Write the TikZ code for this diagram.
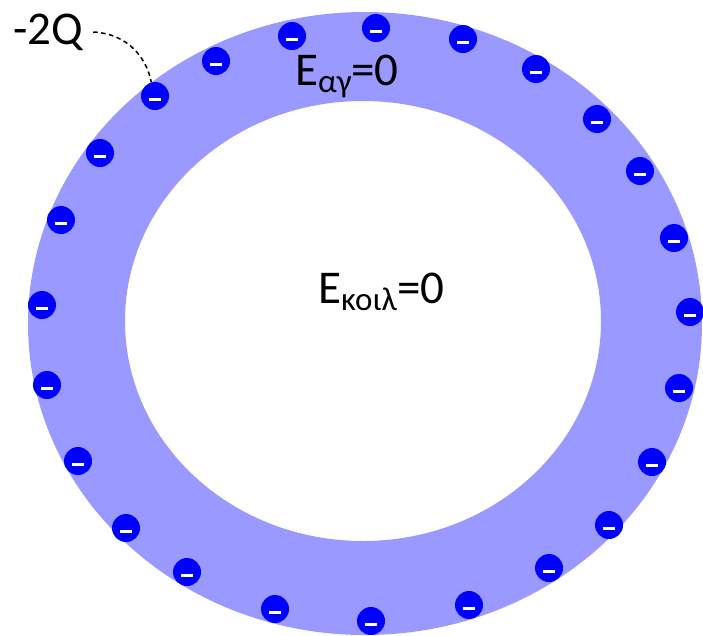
\documentclass[tikz,border=0pt]{standalone}
\usepackage{fontspec}
\setmainfont{Carlito}
\usetikzlibrary{calc}
\definecolor{ringcol}{HTML}{9999FF}
\definecolor{chargecol}{HTML}{0000FF}
\tikzset{
  charge/.style={circle, fill=chargecol, minimum size=28pt, inner sep=0pt,
    path picture={\fill[white] ($(path picture bounding box.center)+(-6,1.5)$) rectangle ($(path picture bounding box.center)+(6,4.5)$);}},
  bigtext/.style={font=\fontsize{47}{47}\selectfont, inner sep=0pt, anchor=base west},
  leader/.style={dashed, dash pattern=on 4.5pt off 3.5pt, line width=1.5pt}
}
\newcommand{\subtxt}[1]{\raisebox{-7pt}{\fontsize{33}{33}\selectfont #1}}
\begin{document}
\begin{tikzpicture}[x=1pt,y=-1pt]
\useasboundingbox (0,0) rectangle (703,635);
\fill[ringcol, even odd rule] (365,323.5) ellipse [x radius=337pt, y radius=311.5pt]
  (363,321) ellipse [x radius=238pt, y radius=220pt];
\foreach \n/\x/\y in {1/376/28, 2/463/39, 3/536/69, 4/597/119, 5/640/171, 6/674/238,
  7/690/312, 8/679/388, 9/652/462, 10/609/525, 11/549/568, 12/469/605, 13/371/621,
  14/275/609, 15/187/572, 16/126/528, 17/78/461, 18/47/385, 19/42/305, 20/61/220,
  21/100/153, 22/155/96, 23/216/61, 24/292/36}
  \node[charge] (c\n) at (\x,\y) {};
\node[bigtext] (q) at (13,44) {-2Q};
\node[bigtext] (eag) at (295,85) {E\subtxt{αγ}=0};
\node[bigtext] (ek) at (318,303) {E\subtxt{κοιλ}=0};
\coordinate (qend) at ([xshift=10pt,yshift=12pt]q.base east);
\draw[leader] (qend) .. controls (130,34) and (147,60) .. (c22.105);
\end{tikzpicture}
\end{document}
